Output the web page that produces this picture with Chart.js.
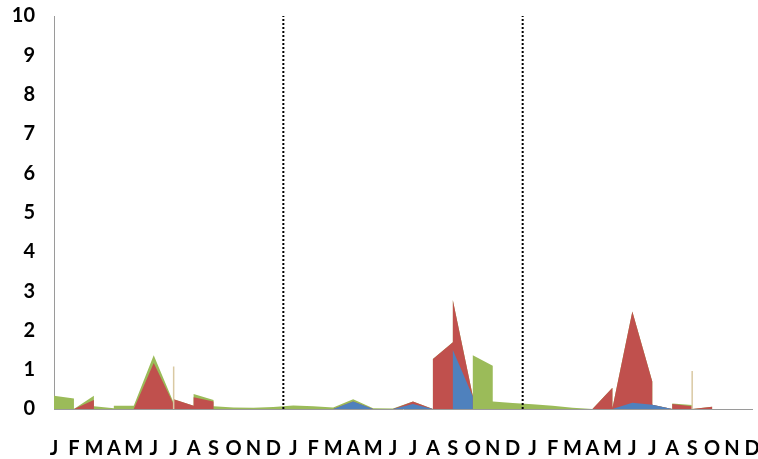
<!DOCTYPE html>
<html>
<head>
<meta charset="utf-8">
<script src="https://cdn.jsdelivr.net/npm/chart.js@4/dist/chart.umd.min.js"></script>
<style>
  html, body { margin: 0; padding: 0; background: #fff; }
  canvas { display: block; }
</style>
</head>
<body>
<canvas id="chart" width="758" height="459"></canvas>
<script>
// month letters for the x axis (3 years)
const monthLabels = ['J', 'F', 'M', 'A', 'M', 'J', 'J', 'A', 'S', 'O', 'N', 'D'];
const yTicks = [0, 1, 2, 3, 4, 5, 6, 7, 8, 9, 10];

// x position of every point (month index, repeated where the area jumps)
const xs    = [0, 1, 1, 2, 2, 3, 3, 4, 5, 6, 6, 7, 7, 8, 8, 9, 10, 11, 12, 13, 14, 15, 16, 17, 18, 19, 19, 20, 20, 21, 21, 22, 22, 23, 24, 25, 26, 27, 28, 28, 29, 30, 30, 31, 31, 32, 32, 33, 33, 34, 35];
const blue  = [0, 0, 0, 0, 0, 0, 0, 0, 0, 0, 0, 0, 0, 0, 0, 0, 0, 0, 0, 0, 0, 0.19, 0, 0, 0.13, 0, 0, 0, 1.5, 0.32, 0, 0, 0, 0, 0, 0, 0, 0, 0, 0, 0.16, 0.11, 0.11, 0, 0, 0, 0, 0, 0, 0, 0];
const red   = [0, 0, 0, 0.23, 0, 0, 0, 0, 1.17, 0.12, 0.25, 0.08, 0.3, 0.19, 0, 0, 0, 0, 0, 0, 0, 0, 0, 0, 0.06, 0, 1.27, 1.7, 1.27, 0.01, 0, 0, 0, 0, 0, 0, 0, 0, 0.54, 0.02, 2.32, 0.59, 0, 0, 0.13, 0.07, 0, 0.06, 0, 0, 0];
const green = [0.34, 0.27, 0, 0.11, 0.07, 0.02, 0.08, 0.08, 0.2, 0.04, 0, 0, 0.08, 0.04, 0.07, 0.04, 0.03, 0.05, 0.09, 0.07, 0.04, 0.06, 0.02, 0.01, 0, 0, 0, 0, 0, 0, 1.37, 1.1, 0.19, 0.15, 0.12, 0.08, 0.03, 0, 0, 0, 0, 0, 0, 0, 0.01, 0.03, 0, 0, 0, 0, 0];

// thin single-point spikes
const spikeX = [6, 32];
const spikeY = [1.08, 0.97];

// year separators
const yearBreaks = [11.5, 23.5];

const colors = { blue: '#4F81BD', red: '#C0504D', green: '#9BBB59', spike: '#d9c9a3' };

function draw() {
    // stacked totals, drawn back to front
    const blueTop  = xs.map((x, i) => ({ x: x, y: blue[i] }));
    const redTop   = xs.map((x, i) => ({ x: x, y: blue[i] + red[i] }));
    const greenTop = xs.map((x, i) => ({ x: x, y: blue[i] + red[i] + green[i] }));

    const spikePts = [];
    spikeX.forEach((x, i) => {
        spikePts.push({ x: x, y: 0 }, { x: x, y: spikeY[i] }, { x: x, y: 0 });
        if (i < spikeX.length - 1) spikePts.push({ x: (x + spikeX[i + 1]) / 2, y: null });
    });

    const breakSets = yearBreaks.map(b => ({
        data: [{ x: b, y: 0 }, { x: b, y: 10 }],
        borderColor: '#000',
        borderWidth: 2,
        borderDash: [2, 2],
        fill: false
    }));

    const area = (pts, color) => ({
        data: pts,
        backgroundColor: color,
        borderWidth: 0,
        fill: 'origin'
    });

    const boldFont = { family: 'Lato', size: 20, weight: 'bold' };

    new Chart(document.getElementById('chart').getContext('2d'), {
        type: 'line',
        data: {
            datasets: [
                ...breakSets,
                { data: spikePts, borderColor: colors.spike, borderWidth: 1.5, fill: false, spanGaps: false },
                area(blueTop, colors.blue),
                area(redTop, colors.red),
                area(greenTop, colors.green)
            ]
        },
        options: {
            responsive: false,
            animation: false,
            layout: { padding: { top: 16, right: 6, left: 0, bottom: 0 } },
            elements: { point: { radius: 0 }, line: { tension: 0 } },
            plugins: { legend: { display: false }, tooltip: { enabled: false } },
            scales: {
                x: {
                    type: 'linear',
                    min: 0,
                    max: 35,
                    grid: { display: false, drawTicks: false },
                    border: { display: true, color: '#9a9a9a', width: 1 },
                    ticks: {
                        stepSize: 1,
                        autoSkip: false,
                        maxRotation: 0,
                        padding: 28,
                        color: '#000',
                        font: boldFont,
                        callback: v => monthLabels[v % 12]
                    },
                    afterFit: s => { s.height = 50; s.paddingLeft = 0; s.paddingRight = 0; }
                },
                y: {
                    min: 0,
                    max: 10,
                    grid: { display: false, drawTicks: false },
                    border: { display: true, color: '#9a9a9a', width: 1 },
                    afterBuildTicks: s => { s.ticks = yTicks.map(v => ({ value: v })); },
                    ticks: {
                        padding: 19,
                        color: '#000',
                        font: boldFont
                    },
                    afterFit: s => { s.width = 54; s.paddingTop = 0; s.paddingBottom = 0; }
                }
            }
        }
    });
}

document.fonts.load('bold 20px Lato').then(draw, draw);
</script>
</body>
</html>
